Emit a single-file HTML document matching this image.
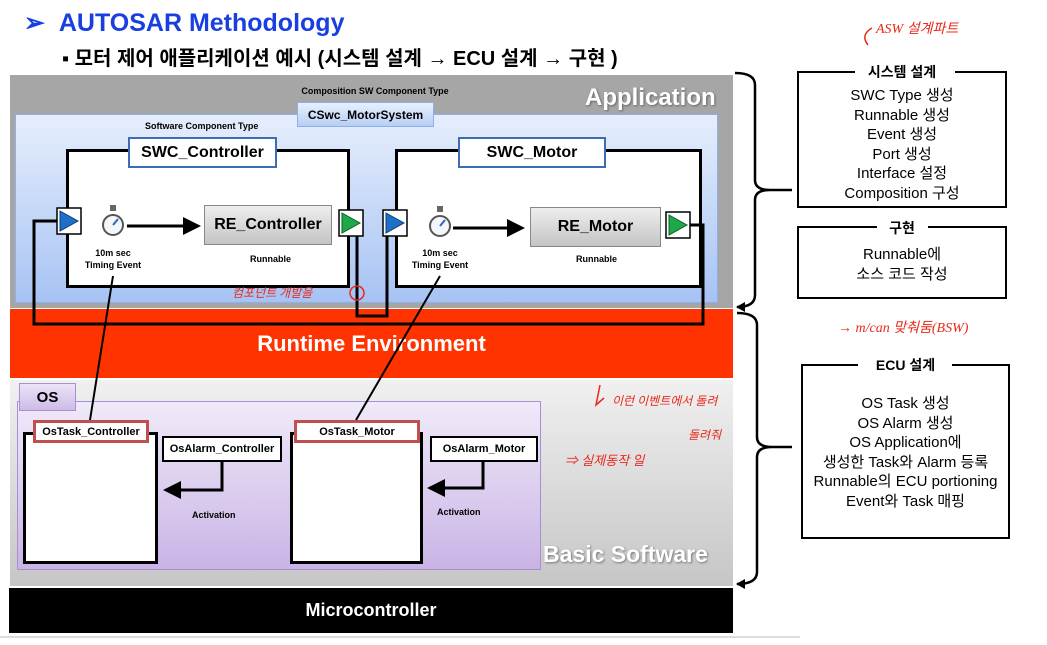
<!DOCTYPE html>
<html><head><meta charset="utf-8"><style>
body{margin:0;width:1047px;height:645px;background:#fff;position:relative;overflow:hidden;font-family:"Liberation Sans","Noto Sans CJK KR",sans-serif}
.a{position:absolute;box-sizing:border-box}
.c{display:flex;align-items:center;justify-content:center;text-align:center}
.b{font-weight:bold}
.hw{position:absolute;color:#e8291c;font-family:"Liberation Serif","Noto Sans CJK KR",sans-serif;font-size:14px;font-style:italic;white-space:nowrap}
.rt{font-size:15px;line-height:19.5px;text-align:center;color:#000}
</style></head><body>
<div class="a b" style="left:24px;top:8px;font-size:25px;color:#1a3fe0">➢&nbsp;&nbsp;AUTOSAR Methodology</div>
<div class="a b" style="left:62px;top:42px;font-size:20px;color:#000;font-family:'Liberation Sans','Noto Sans CJK KR',sans-serif">▪ 모터 제어 애플리케이션 예시 (시스템 설계 → ECU 설계 → 구현 )</div>

<!-- Application -->
<div class="a" style="left:10px;top:75px;width:723px;height:233px;background:#a6a6a6"></div>
<div class="a b" style="left:585px;top:84px;font-size:24px;color:#fff;text-shadow:1px 1px 2px #666">Application</div>
<div class="a b" style="left:290px;top:86px;width:170px;font-size:9px;text-align:center">Composition SW Component Type</div>
<div class="a" style="left:15px;top:114px;width:703px;height:189px;background:linear-gradient(#e6eefc,#a7c3f4);border:1px solid #8db0e8"></div>
<div class="a b c" style="left:297px;top:102px;width:137px;height:25px;background:linear-gradient(#e8f0fd,#b7cff6);border:1px solid #8db0e8;font-size:12px">CSwc_MotorSystem</div>
<div class="a b" style="left:145px;top:121px;font-size:9px">Software Component Type</div>

<div class="a" style="left:66px;top:149px;width:284px;height:139px;border:3px solid #000;background:#fff"></div>
<div class="a b c" style="left:128px;top:137px;width:149px;height:31px;border:2px solid #3d6bb6;background:#fff;font-size:16px">SWC_Controller</div>
<div class="a" style="left:395px;top:149px;width:307px;height:139px;border:3px solid #000;background:#fff"></div>
<div class="a b c" style="left:458px;top:137px;width:148px;height:31px;border:2px solid #3d6bb6;background:#fff;font-size:16px">SWC_Motor</div>

<div class="a b c" style="left:204px;top:205px;width:128px;height:40px;background:linear-gradient(#eee,#c4c4c4);border:1px solid #888;font-size:16px">RE_Controller</div>
<div class="a b c" style="left:530px;top:207px;width:131px;height:40px;background:linear-gradient(#eee,#c4c4c4);border:1px solid #888;font-size:16px">RE_Motor</div>
<div class="a b" style="left:250px;top:254px;font-size:9px">Runnable</div>
<div class="a b" style="left:576px;top:254px;font-size:9px">Runnable</div>
<div class="a b" style="left:83px;top:247px;width:60px;font-size:9px;text-align:center;line-height:12px">10m sec<br>Timing Event</div>
<div class="a b" style="left:410px;top:247px;width:60px;font-size:9px;text-align:center;line-height:12px">10m sec<br>Timing Event</div>

<!-- RTE -->
<div class="a b c" style="left:10px;top:309px;width:723px;height:69px;background:#ff3300;color:#fff;font-size:22px">Runtime Environment</div>

<!-- BSW -->
<div class="a" style="left:10px;top:380px;width:723px;height:206px;background:linear-gradient(#f0f0f0,#c6c6c6)"></div>
<div class="a b" style="left:543px;top:541px;font-size:23px;color:#fff;text-shadow:1px 1px 2px #777">Basic Software</div>
<div class="a" style="left:17px;top:401px;width:524px;height:169px;background:linear-gradient(#f0eaf9,#c9b4e6);border:1px solid #a98fd0"></div>
<div class="a b c" style="left:19px;top:383px;width:57px;height:28px;background:linear-gradient(#ece4f7,#cdbbe8);border:1px solid #a98fd0;font-size:15px">OS</div>

<div class="a" style="left:23px;top:432px;width:135px;height:132px;border:3px solid #000;background:#fff"></div>
<div class="a b c" style="left:33px;top:420px;width:116px;height:23px;border:3px solid #c0504d;background:#fff;font-size:11px">OsTask_Controller</div>
<div class="a" style="left:290px;top:432px;width:133px;height:132px;border:3px solid #000;background:#fff"></div>
<div class="a b c" style="left:294px;top:420px;width:126px;height:23px;border:3px solid #c0504d;background:#fff;font-size:11px">OsTask_Motor</div>
<div class="a b c" style="left:162px;top:436px;width:120px;height:26px;border:2px solid #000;background:#fff;font-size:11px">OsAlarm_Controller</div>
<div class="a b c" style="left:430px;top:436px;width:108px;height:26px;border:2px solid #000;background:#fff;font-size:11px">OsAlarm_Motor</div>
<div class="a b" style="left:192px;top:510px;font-size:9px">Activation</div>
<div class="a b" style="left:437px;top:507px;font-size:9px">Activation</div>

<!-- Micro -->
<div class="a b c" style="left:9px;top:588px;width:724px;height:45px;background:#000;color:#fff;font-size:18px">Microcontroller</div>
<div class="a" style="left:0;top:636px;width:800px;height:2px;background:#ddd"></div>

<svg class="a" style="left:0;top:0" width="1047" height="645">
<defs><marker id="ar" markerWidth="6" markerHeight="6" refX="5" refY="3" orient="auto"><path d="M0,0L6,3L0,6z" fill="#000"/></marker></defs>
<g fill="none" stroke="#000" stroke-width="3">
<polyline points="57,221 34,221 34,324 703,324 703,225 690,225"/>
<polyline points="357,236 357,316 387,316 387,236"/>
<line x1="127" y1="226" x2="198" y2="226" marker-end="url(#ar)"/>
<line x1="453" y1="228" x2="522" y2="228" marker-end="url(#ar)"/>
<polyline points="222,462 222,490 166,490" marker-end="url(#ar)"/>
<polyline points="483,462 483,488 430,488" marker-end="url(#ar)"/>
</g>
<g stroke="#000" stroke-width="2">
<line x1="113" y1="276" x2="90" y2="420"/>
<line x1="440" y1="276" x2="356" y2="420"/>
</g>
<g stroke="#000" stroke-width="1.5" fill="#fff">
<rect x="57" y="208" width="24" height="26"/><rect x="339" y="210" width="24" height="26"/>
<rect x="383" y="210" width="24" height="26"/><rect x="666" y="212" width="24" height="26"/>
</g>
<path d="M60,211L78,221L60,231z" fill="#1e6fc7" stroke="#0d3f80"/>
<path d="M342,213L360,223L342,233z" fill="#1fa84a" stroke="#0d5f25"/>
<path d="M386,213L404,223L386,233z" fill="#1e6fc7" stroke="#0d3f80"/>
<path d="M669,215L687,225L669,235z" fill="#1fa84a" stroke="#0d5f25"/>
<g stroke="#555" stroke-width="2" fill="#f4f6fa">
<circle cx="113" cy="225" r="10"/><circle cx="440" cy="226" r="10"/>
</g>
<g fill="#666"><rect x="110" y="205" width="6" height="6"/><rect x="437" y="206" width="6" height="6"/></g>
<g stroke="#2b65c8" stroke-width="2"><line x1="113" y1="225" x2="118" y2="219"/><line x1="440" y1="226" x2="445" y2="220"/></g>
<g fill="none" stroke="#000" stroke-width="2.5">
<path d="M735,73 Q755,73 755,85 L755,180 Q755,190 770,190 L792,190 M770,190 Q755,190 755,200 L755,295 Q755,307 737,307"/>
<path d="M737,313 Q757,313 757,325 L757,437 Q757,447 772,447 L792,447 M772,447 Q757,447 757,457 L757,572 Q757,584 737,584"/>
</g>
<path d="M736,307 L745,302 L745,312z M736,584 L745,579 L745,589z" fill="#000"/>
<g fill="none" stroke="#000" stroke-width="2">
<path d="M855,72 L798,72 L798,207 L1006,207 L1006,72 L955,72"/>
<path d="M877,227 L798,227 L798,298 L1006,298 L1006,227 L928,227"/>
<path d="M858,365 L802,365 L802,538 L1009,538 L1009,365 L952,365"/>
</g>
<path d="M868,45 Q860,35 872,28" stroke="#e8291c" fill="none" stroke-width="1.5"/>
<path d="M600,385 L596,405 L604,398" stroke="#e8291c" fill="none" stroke-width="1.5"/>
<circle cx="357" cy="293" r="7" stroke="#e8291c" fill="none" stroke-width="1.5"/>
</svg>

<div class="a b" style="left:798px;top:62px;width:208px;text-align:center;font-size:14px">시스템 설계</div>
<div class="a rt" style="left:798px;top:86px;width:208px">SWC Type 생성<br>Runnable 생성<br>Event 생성<br>Port 생성<br>Interface 설정<br>Composition 구성</div>
<div class="a b" style="left:798px;top:218px;width:208px;text-align:center;font-size:14px">구현</div>
<div class="a rt" style="left:798px;top:245px;width:208px">Runnable에<br>소스 코드 작성</div>
<div class="a b" style="left:802px;top:355px;width:207px;text-align:center;font-size:14px">ECU 설계</div>
<div class="a rt" style="left:802px;top:394px;width:207px">OS Task 생성<br>OS Alarm 생성<br>OS Application에<br>생성한 Task와 Alarm 등록<br>Runnable의 ECU portioning<br>Event와 Task 매핑</div>

<div class="hw" style="left:876px;top:18px">ASW 설계파트</div>
<div class="hw" style="left:838px;top:317px">→ m/can 맞춰둠(BSW)</div>
<div class="hw" style="left:232px;top:284px;font-size:12px">컴포넌트 개발을</div>
<div class="hw" style="left:612px;top:392px;font-size:12px">이런 이벤트에서 돌려</div>
<div class="hw" style="left:688px;top:426px;font-size:12px">돌려줘</div>
<div class="hw" style="left:565px;top:450px;font-size:13px">⇒ 실제동작 일</div>
</body></html>
